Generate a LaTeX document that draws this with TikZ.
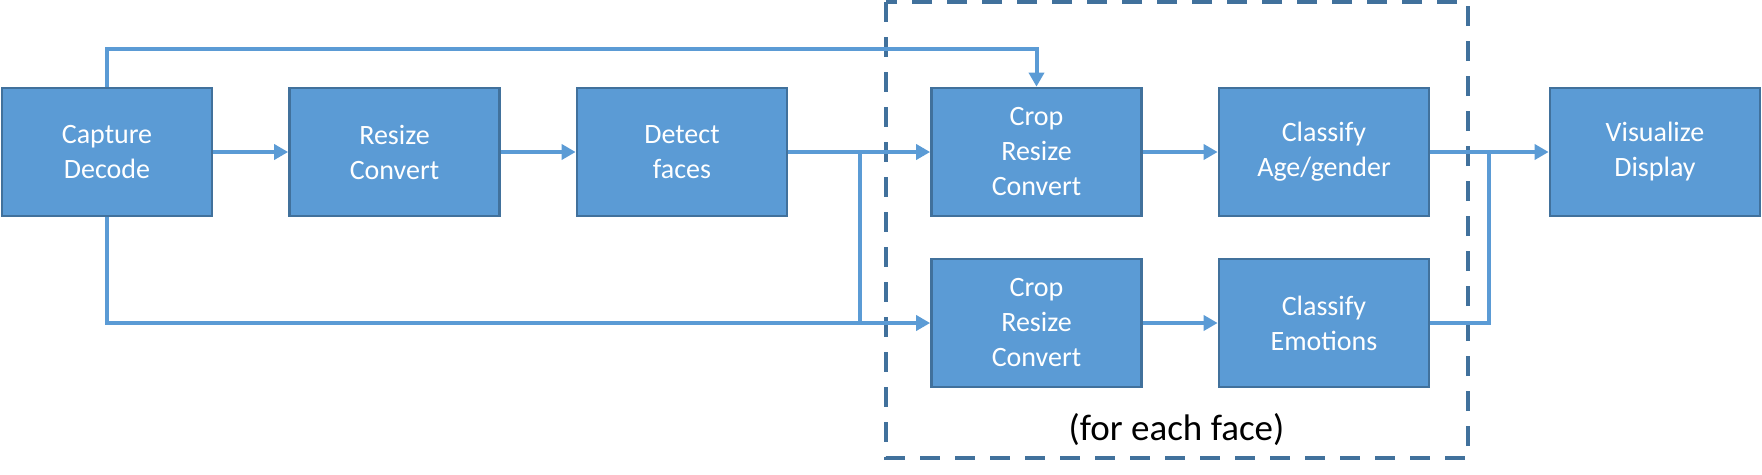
\documentclass[tikz,border=0pt]{standalone}
\usepackage{fontspec}
\setmainfont{Carlito}
\usetikzlibrary{arrows.meta,calc}
\definecolor{boxfill}{HTML}{5B9BD5}
\definecolor{boxline}{HTML}{41719C}
\definecolor{conn}{HTML}{5B9BD5}
\tikzset{
  stagebox/.style={draw=boxline, line width=2.7pt, fill=boxfill, text=white,
    minimum width=210pt, minimum height=128pt, inner sep=0pt, align=center,
    font=\fontsize{28}{35}\selectfont},
  conline/.style={draw=conn, line width=4pt},
  conarrow/.style={conline, -{Triangle[length=14pt,width=15pt]}},
  groupbox/.style={draw=boxline, line width=4pt, dash pattern=on 20pt off 15pt},
}
\begin{document}
\begin{tikzpicture}[x=1pt,y=-1pt]
\useasboundingbox (0,0) rectangle (1762,474);
\node[stagebox] (cap) at (107,152) {Capture\\Decode};
\node[stagebox] (res) at (394.5,152) {Resize\\Convert};
\node[stagebox] (det) at (682,152) {Detect\\faces};
\node[stagebox] (crop1) at (1036.5,152) {Crop\\Resize\\Convert};
\node[stagebox] (age) at (1324,152) {Classify\\Age/gender};
\node[stagebox] (vis) at (1655,152) {Visualize\\Display};
\node[stagebox] (crop2) at (1036.5,323) {Crop\\Resize\\Convert};
\node[stagebox] (emo) at (1324,323) {Classify\\Emotions};
\draw[groupbox] (886,2) rectangle (1468,458);
\node[anchor=base, font=\fontsize{37}{44}\selectfont] (lbl) at (1176.5,440) {(for each face)};
\coordinate (top) at (0,49);
\coordinate (bot) at (0,323);
\coordinate (j1) at (860,152);
\coordinate (j2) at (1489,152);
\draw[conarrow] (cap) -- (res);
\draw[conarrow] (res) -- (det);
\draw[conarrow] (det) -- (crop1);
\draw[conline] (j1) -- (j1 |- crop2.west);
\draw[conarrow] (cap.north) -- (cap.north |- top) -| (crop1.north);
\draw[conarrow] (cap.south) |- (crop2.west);
\draw[conarrow] (crop1) -- (age);
\draw[conarrow] (crop2) -- (emo);
\draw[conarrow] (age) -- (vis);
\draw[conline] (emo.east) -| (j2);
\end{tikzpicture}
\end{document}
